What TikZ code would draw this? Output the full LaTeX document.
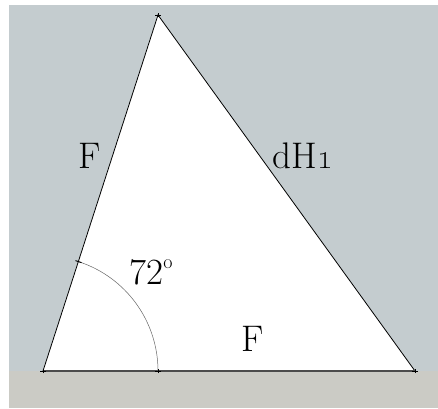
\documentclass[tikz,border=0pt]{standalone}
\definecolor{skyg}{HTML}{C4CCCF}
\definecolor{groundg}{HTML}{CBCBC5}
\tikzset{
  lbl/.style={font=\fontsize{37}{37}\selectfont, inner sep=0pt},
  edge/.style={black, line width=0.8pt},
  tickm/.style={black, line width=0.9pt}
}
\begin{document}
\begin{tikzpicture}[x=1pt,y=-1pt]
\useasboundingbox (0,0) rectangle (438,408);
\fill[skyg] (9,5) rectangle (438,371);
\fill[groundg] (9,371) rectangle (438,408);
\coordinate (A) at (43,371);
\coordinate (B) at (415,371);
\coordinate (C) at (158,15);
\coordinate (P) at (158,371);
\coordinate (Q) at (78.5,261.6);
\fill[white] (A) -- (B) -- (C) -- cycle;
\draw[edge] (A) -- (C) -- (B);
\draw[black!70, line width=1.2pt] (A) -- (B);
\draw[black!60, line width=0.5pt] (P) arc[start angle=0, end angle=-72, radius=115];
\foreach \p in {A,B,C,P}{
  \draw[tickm] ([xshift=-3pt]\p) -- ([xshift=3pt]\p);
  \draw[tickm] ([yshift=-2pt]\p) -- ([yshift=2pt]\p);
}
\draw[tickm] ([shift={(-3,-1)}]Q) -- ([shift={(3,1)}]Q);
\node[lbl] (fl) at (90,156) {F};
\node[lbl] (dh) at (303,156) {dH\oldstylenums{1}};
\node[lbl] (ang) at (151,272) {72\raisebox{0.42em}{\fontsize{20}{20}\selectfont o}};
\node[lbl] (fb) at (253,339) {F};
\end{tikzpicture}
\end{document}
